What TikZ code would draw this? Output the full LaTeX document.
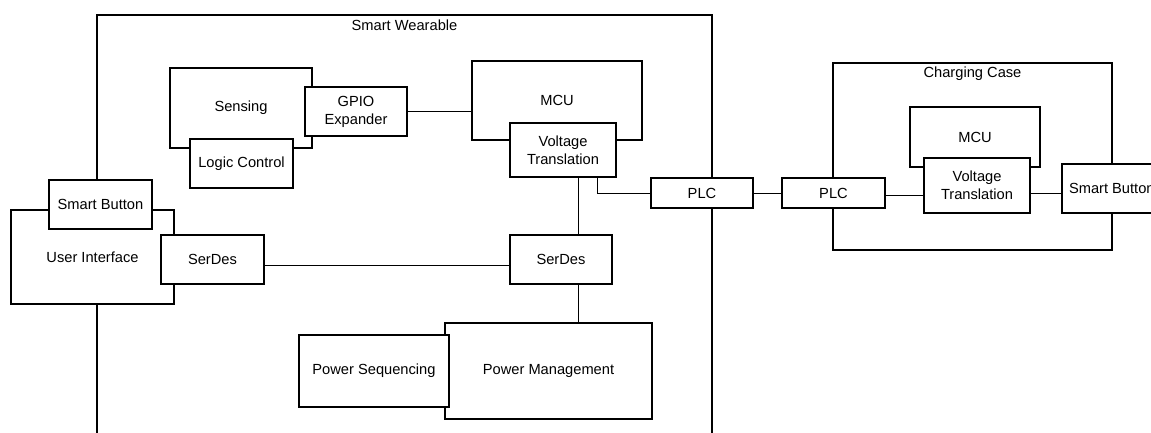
\documentclass[tikz,border=0pt]{standalone}
\usepackage{fontspec}
\setmainfont{Liberation Sans}
\usetikzlibrary{calc}
% one drawing unit = one pixel of the layout grid
\newlength\pxu
\setlength\pxu{0.75pt}
\tikzset{
  txt/.style={font=\fontsize{11}{13.5}\selectfont},
  frame/.style={draw, line width=1.5pt, inner sep=0pt},
  blk/.style={txt, draw, line width=1.5pt, fill=white, inner sep=0pt, align=center},
  wire/.style={draw, line width=0.75pt},
  ttl/.style={txt, inner sep=0pt},
}
\begin{document}
\begin{tikzpicture}[x=\pxu, y=-\pxu]
  \clip (0,0) rectangle (1151,432);
  \fill[white] (0,0) rectangle (1151,432);

  % enclosing frames
  \node[frame, minimum width=615\pxu, minimum height=435\pxu] (wear) at (404.5,232.5) {};
  \node[ttl] (weartitle) at (404.5,25.5) {Smart Wearable};
  \node[frame, minimum width=279\pxu, minimum height=187\pxu] (case) at (972.5,156.5) {};
  \node[ttl] (casetitle) at (972.5,74) {Charging Case};

  % wearable blocks
  \node[blk, minimum width=142\pxu, minimum height=80\pxu] (sens) at (241,108) {Sensing};
  \node[blk, minimum width=102\pxu, minimum height=49\pxu] (gpio) at (356,111.5) {GPIO\\Expander};
  \node[blk, minimum width=103\pxu, minimum height=49\pxu] (logic) at (241.5,163.5) {Logic Control};
  \node[blk, minimum width=170\pxu, minimum height=79\pxu] (mcuA) at (557,100.5) {MCU};
  \node[blk, minimum width=106\pxu, minimum height=54\pxu] (vtA) at (563,150) {Voltage\\Translation};
  \node[blk, minimum width=102\pxu, minimum height=30\pxu] (plcA) at (702,193) {PLC};
  \node[blk, minimum width=102\pxu, minimum height=49\pxu] (sdB) at (561,259.5) {SerDes};
  \node[blk, minimum width=207\pxu, minimum height=96\pxu] (pm) at (548.5,371) {Power Management};
  \node[blk, minimum width=150\pxu, minimum height=72\pxu] (ps) at (374,371) {Power Sequencing};
  \node[blk, minimum width=163\pxu, minimum height=94\pxu] (ui) at (92.5,257) {User Interface};
  \node[blk, minimum width=103\pxu, minimum height=49\pxu] (sbA) at (100.5,204.5) {Smart Button};
  \node[blk, minimum width=103\pxu, minimum height=49\pxu] (sdA) at (212.5,259.5) {SerDes};

  % charging case blocks
  \node[blk, minimum width=103\pxu, minimum height=30\pxu] (plcB) at (833.5,193) {PLC};
  \node[blk, minimum width=130\pxu, minimum height=60\pxu] (mcuB) at (975,137) {MCU};
  \node[blk, minimum width=106\pxu, minimum height=55\pxu] (vtB) at (977,185.5) {Voltage\\Translation};
  \node[blk, anchor=west, minimum height=49\pxu, inner xsep=7\pxu] (sbB) at (1061,188.5) {Smart Button};

  % connection tap points
  \coordinate (tapPLC) at (597,193);
  \coordinate (tapSD) at (578,0);
  \coordinate (busSD) at (0,265);
  \coordinate (busB) at (0,195);

  % connectors between block edges
  \path[wire] (gpio.east) -- (gpio.east -| mcuA.west);
  \path[wire] (vtA.south -| tapPLC) |- (plcA.west);
  \path[wire] (vtA.south -| tapSD) -- (sdB.north -| tapSD);
  \path[wire] (sdB.south -| tapSD) -- (pm.north -| tapSD);
  \path[wire] (sdA.east |- busSD) -- (sdB.west |- busSD);
  \path[wire] (plcA.east) -- (plcB.west);
  \path[wire] (plcB.east |- busB) -- (vtB.west |- busB);
  \path[wire] (vtB.east |- plcA.east) -- (sbB.west |- plcA.east);
\end{tikzpicture}
\end{document}
